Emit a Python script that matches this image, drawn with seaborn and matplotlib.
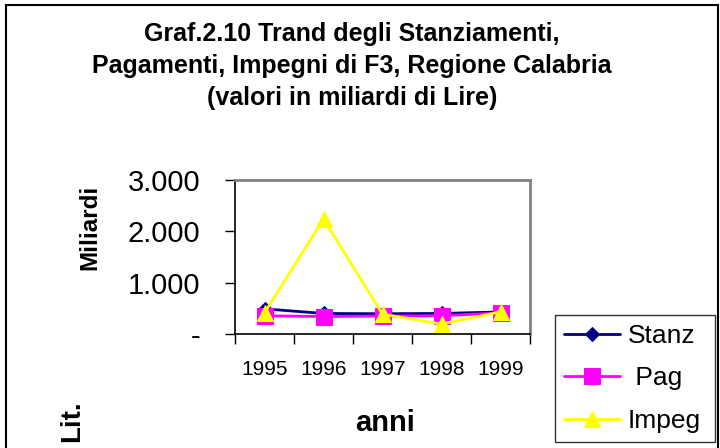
import numpy as np
import pandas as pd
import matplotlib
matplotlib.use("Agg")
import matplotlib.pyplot as plt
import seaborn as sns
from matplotlib.patches import Rectangle

# data (miliardi di Lire)
anni = ["1995", "1996", "1997", "1998", "1999"]
stanz = [490, 400, 395, 400, 430]
pag = [355, 340, 350, 355, 410]
impeg = [410, 2240, 385, 195, 430]

series_names = ["Stanz", " Pag", "Impeg"]
colors = ["#000080", "#FF00FF", "#FFFF00"]
markers = ["D", "s", "^"]
msizes = [7, 11, 12]

df = pd.DataFrame({
    "anno": np.tile(np.arange(len(anni)), 3),
    "valore": stanz + pag + impeg,
    "serie": np.repeat(series_names, len(anni)),
})

sns.set_theme(style="white")
plt.rcParams["font.family"] = ["Liberation Sans", "DejaVu Sans"]
plt.rcParams["text.color"] = "black"
plt.rcParams["xtick.color"] = "black"
plt.rcParams["ytick.color"] = "black"

fig = plt.figure(figsize=(7.2, 4.48), dpi=100)
ax = fig.add_axes([235 / 720, 1 - 334 / 448, 295 / 720, 154 / 448])

for name, col, mk, ms in zip(series_names, colors, markers, msizes):
    sns.lineplot(data=df[df["serie"] == name], x="anno", y="valore", ax=ax,
                 color=col, marker=mk, markersize=ms, markeredgecolor=col,
                 linewidth=2, label=name)

ax.set_xlim(-0.5, len(anni) - 0.5)
ax.set_ylim(0, 3000)
ax.set_yticks([0, 1000, 2000, 3000])
ax.set_yticklabels(["-", "1.000", "2.000", "3.000"], fontsize=21)
ax.set_xticks(np.arange(-0.5, len(anni), 1.0))
ax.set_xticklabels([])
ax.set_xticks(np.arange(len(anni)), minor=True)
ax.set_xticklabels(anni, minor=True, fontsize=15)
ax.tick_params(axis="x", which="major", direction="out", length=7, width=1,
               color="black", bottom=True)
ax.tick_params(axis="x", which="minor", length=0, pad=19, bottom=True)
ax.tick_params(axis="y", direction="out", length=7, width=1, color="black",
               left=True, pad=18)
ax.set_xlabel("")
ax.set_ylabel("")

for s in ["left", "bottom"]:
    ax.spines[s].set_color("black")
    ax.spines[s].set_linewidth(1.2)
for s in ["top", "right"]:
    ax.spines[s].set_color("#808080")
    ax.spines[s].set_linewidth(2)

leg = ax.legend(loc="lower left", bbox_to_anchor=(555 / 720, 6 / 448, 160 / 720, 132 / 448),
                bbox_transform=fig.transFigure, mode="expand", fontsize=19,
                frameon=True, fancybox=False, handlelength=2.1, handletextpad=0.3,
                borderaxespad=0, labelspacing=0.7, borderpad=0.35)
leg.get_frame().set_edgecolor("black")
leg.get_frame().set_linewidth(1)

fig.text(352 / 720, 1 - 66 / 448,
         "Graf.2.10 Trand degli Stanziamenti,\nPagamenti, Impegni di F3, Regione Calabria\n(valori in miliardi di Lire)",
         ha="center", va="center", fontsize=18, fontweight="bold", linespacing=1.4)
fig.text(90 / 720, 1 - 227 / 448, "Miliardi", rotation=90, ha="center", va="center",
         fontsize=17.5, fontweight="bold")
fig.text(72 / 720, 1 - 421 / 448, "Lit.", rotation=90, ha="center", va="center",
         fontsize=20, fontweight="bold")
fig.text(385 / 720, 1 - 423 / 448, "anni", ha="center", va="center",
         fontsize=21, fontweight="bold")

fig.patches.append(Rectangle((6 / 720, -0.05), 712 / 720, 1 - 5 / 448 + 0.05,
                             transform=fig.transFigure, fill=False,
                             edgecolor="black", linewidth=1.5))

fig.savefig("out.png", dpi=100)
